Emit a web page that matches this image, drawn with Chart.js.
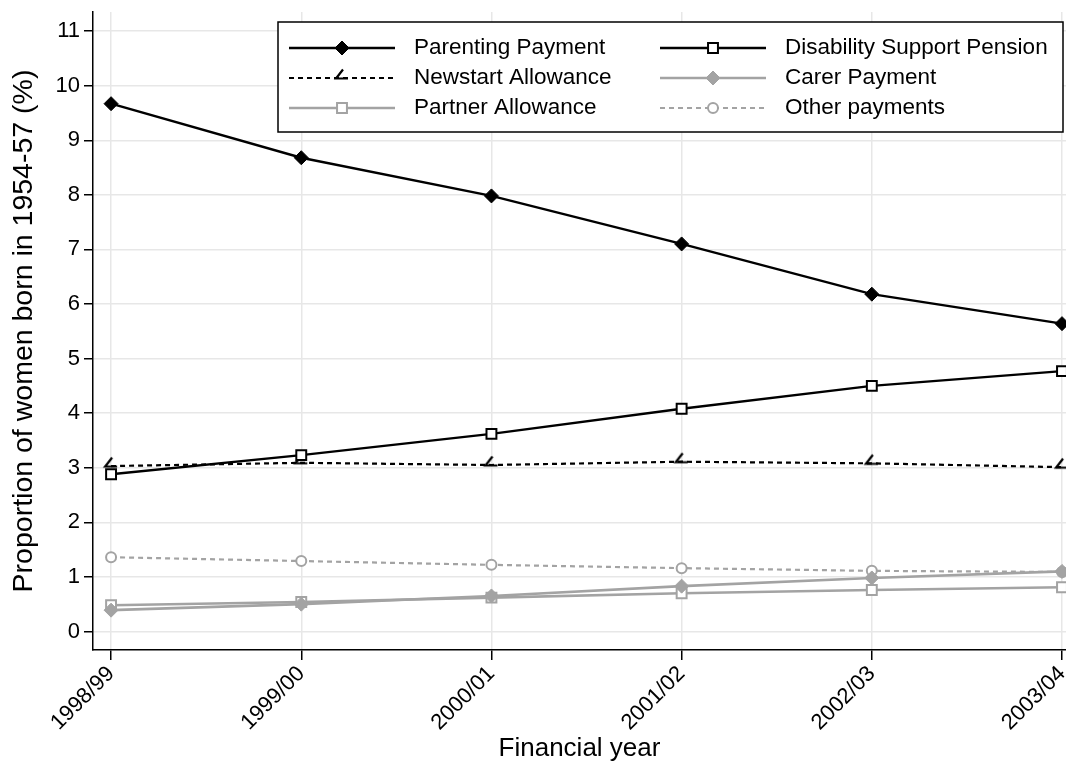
<!DOCTYPE html>
<html>
<head>
<meta charset="utf-8">
<script src="https://cdn.jsdelivr.net/npm/chart.js@4/dist/chart.umd.min.js"></script>
<style>
  html, body { margin: 0; padding: 0; background: #ffffff; overflow: hidden; }
  canvas { display: block; }
</style>
</head>
<body>
<canvas id="chart" width="1066" height="769"></canvas>
<script>
// Financial years on the horizontal axis
const years = ['1998/99', '1999/00', '2000/01', '2001/02', '2002/03', '2003/04'];

// Share of women born 1954-57 receiving each payment (%)
const parentingPayment   = [9.67, 8.68, 7.98, 7.10, 6.18, 5.64];
const disabilityPension  = [2.88, 3.23, 3.62, 4.08, 4.50, 4.77];
const newstartAllowance  = [3.03, 3.09, 3.05, 3.11, 3.08, 3.01];
const carerPayment       = [0.39, 0.50, 0.65, 0.83, 0.98, 1.10];
const partnerAllowance   = [0.48, 0.54, 0.62, 0.70, 0.76, 0.81];
const otherPayments      = [1.36, 1.29, 1.22, 1.16, 1.11, 1.09];

// Vertical axis tick values
const yTicks = [0, 1, 2, 3, 4, 5, 6, 7, 8, 9, 10, 11];

const FONT = '"Liberation Sans", Arial, Helvetica, sans-serif';
const BLACK = '#000000';
const GREY = '#a3a3a3';
const GRID = '#e7e7e7';

// Hollow triangle drawn with a dashed outline: only its left edge and base show
function makeNewstartMarker() {
  const c = document.createElement('canvas');
  c.width = 18; c.height = 20;
  const g = c.getContext('2d');
  g.strokeStyle = BLACK;
  g.lineWidth = 2.2;
  g.lineJoin = 'miter';
  g.beginPath();
  g.moveTo(10, 1.5);
  g.lineTo(3, 10.5);
  g.lineTo(15, 10.5);
  g.stroke();
  return c;
}
const newstartMarker = makeNewstartMarker();

const toPoints = arr => arr.map((v, i) => ({ x: i, y: v }));

function series(label, values, style) {
  return Object.assign({
    label: label,
    data: toPoints(values),
    tension: 0,
    fill: false,
    clip: false,
    borderWidth: 2.4,
    pointBorderWidth: 2,
    pointHoverRadius: 0
  }, style);
}

const datasets = [
  series('Parenting Payment', parentingPayment, {
    borderColor: BLACK, pointStyle: 'rectRot', pointRadius: 7,
    pointBackgroundColor: BLACK, pointBorderColor: BLACK, pointBorderWidth: 1
  }),
  series('Disability Support Pension', disabilityPension, {
    borderColor: BLACK, pointStyle: 'rect', pointRadius: 7,
    pointBackgroundColor: '#ffffff', pointBorderColor: BLACK
  }),
  series('Newstart Allowance', newstartAllowance, {
    borderColor: BLACK, borderWidth: 2.2, borderDash: [5, 4], pointStyle: newstartMarker, pointRadius: 8,
    pointBackgroundColor: BLACK, pointBorderColor: BLACK
  }),
  series('Carer Payment', carerPayment, {
    borderColor: GREY, borderWidth: 2.6, pointStyle: 'rectRot', pointRadius: 7,
    pointBackgroundColor: GREY, pointBorderColor: GREY, pointBorderWidth: 1
  }),
  series('Partner Allowance', partnerAllowance, {
    borderColor: GREY, borderWidth: 2.6, pointStyle: 'rect', pointRadius: 7,
    pointBackgroundColor: '#ffffff', pointBorderColor: GREY
  }),
  series('Other payments', otherPayments, {
    borderColor: GREY, borderWidth: 2.2, borderDash: [5, 4], pointStyle: 'circle', pointRadius: 5,
    pointBackgroundColor: '#ffffff', pointBorderColor: GREY
  })
];

// Boxed two-column legend with line-and-marker keys
const legendBox = {
  id: 'legendBox',
  afterDraw(chart) {
    const ctx = chart.ctx;
    const box = { x: 278, y: 22, w: 785, h: 110 };
    const rows = [48, 78, 108];
    const cols = [
      { x0: 289, x1: 395, tx: 414 },
      { x0: 660, x1: 766, tx: 785 }
    ];
    ctx.save();
    ctx.fillStyle = '#ffffff';
    ctx.fillRect(box.x, box.y, box.w, box.h);
    ctx.strokeStyle = BLACK;
    ctx.lineWidth = 1.5;
    ctx.strokeRect(box.x, box.y, box.w, box.h);

    chart.data.datasets.forEach((ds, i) => {
      const col = cols[i % 2];
      const y = rows[Math.floor(i / 2)];
      ctx.save();
      ctx.strokeStyle = ds.borderColor;
      ctx.lineWidth = ds.borderWidth;
      ctx.setLineDash(ds.borderDash || []);
      ctx.beginPath();
      ctx.moveTo(col.x0, y);
      ctx.lineTo(col.x1, y);
      ctx.stroke();
      ctx.setLineDash([]);
      ctx.fillStyle = ds.pointBackgroundColor;
      ctx.strokeStyle = ds.pointBorderColor;
      ctx.lineWidth = ds.pointBorderWidth;
      Chart.helpers.drawPoint(ctx, {
        pointStyle: ds.pointStyle,
        rotation: 0,
        radius: ds.pointRadius,
        borderWidth: ds.pointBorderWidth
      }, (col.x0 + col.x1) / 2, y);
      ctx.restore();

      ctx.fillStyle = BLACK;
      ctx.font = '22.5px ' + FONT;
      ctx.textBaseline = 'middle';
      ctx.textAlign = 'left';
      ctx.fillText(ds.label, col.tx, y);
    });
    ctx.restore();
  }
};

new Chart(document.getElementById('chart'), {
  type: 'line',
  data: { datasets: datasets },
  options: {
    responsive: false,
    animation: false,
    events: [],
    layout: { autoPadding: false, padding: { top: 12, left: 0, right: 0, bottom: 0 } },
    plugins: {
      legend: { display: false },
      tooltip: { enabled: false }
    },
    scales: {
      x: {
        type: 'linear',
        min: -0.095,
        max: 5.021,
        afterBuildTicks: s => { s.ticks = years.map((_, i) => ({ value: i })); },
        afterFit: s => { s.height = 119; s.paddingLeft = 0; s.paddingRight = 0; },
        ticks: {
          callback: v => years[v],
          autoSkip: false,
          minRotation: 45,
          maxRotation: 45,
          color: BLACK,
          padding: 1,
          font: { family: FONT, size: 22 }
        },
        grid: { color: GRID, lineWidth: 1.5, tickColor: BLACK, tickLength: 10, tickWidth: 1.5 },
        border: { color: BLACK, width: 1.5 },
        title: {
          display: true, text: 'Financial year', color: BLACK,
          font: { family: FONT, size: 26 }, padding: { top: 0, bottom: 5 }
        }
      },
      y: {
        min: -0.34,
        max: 11.35,
        afterBuildTicks: s => { s.ticks = yTicks.map(v => ({ value: v })); },
        afterFit: s => { s.width = 93; s.paddingTop = 0; s.paddingBottom = 0; },
        ticks: {
          color: BLACK,
          padding: 4,
          font: { family: FONT, size: 22 }
        },
        grid: { color: GRID, lineWidth: 1.5, tickColor: BLACK, tickLength: 9, tickWidth: 1.5 },
        border: { color: BLACK, width: 1.5 },
        title: {
          display: true, text: 'Proportion of women born in 1954-57 (%)', color: BLACK,
          font: { family: FONT, size: 28.5 }, padding: { top: 7, bottom: 0 }
        }
      }
    }
  },
  plugins: [legendBox]
});
</script>
</body>
</html>
